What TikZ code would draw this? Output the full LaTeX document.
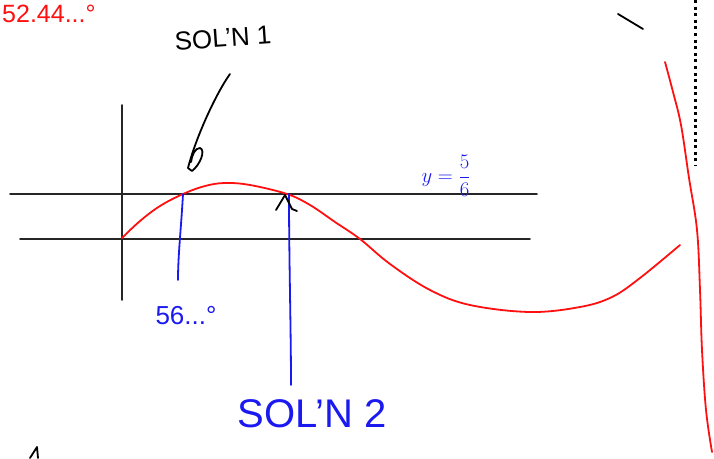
\documentclass[tikz,border=0pt]{standalone}
\usepackage{fontspec}
\setmainfont{Liberation Sans}
\usetikzlibrary{calc}
\definecolor{penred}{HTML}{FF1010}
\definecolor{penblue}{HTML}{1A1AF0}

\begin{document}
\begin{tikzpicture}[x=1pt,y=-1pt,line cap=round,line join=round,
  pen/.style={line width=1.8pt},
  axis/.style={black!85,line width=1.9pt}]
\clip (0,0) rectangle (714,458);
\def\yA{194} \def\yB{239} \def\xO{122}
% axes and the two levels
\draw[axis] (\xO,105) -- (\xO,300);
\draw[axis] (10,\yA) -- (537,\yA);
\draw[axis] (20,\yB) -- (530,\yB);
% the sine curve
\draw[penred,pen] plot[smooth,tension=0.6] coordinates {(\xO,238) (140,221) (160,206) (183,\yA) (205,186) (225,183) (250,185) (287,\yA) (310,205) (335,222) (360,\yB) (390,264) (430,290) (470,305) (530,312) (580,307) (612,297) (640,278) (680,245)};
\draw[penred,pen] plot[smooth,tension=0.6] coordinates {(665,62) (673,92) (681,125) (689,178) (697,230) (700,290) (702,350) (706,410) (712,452)};
% right margin marks
\draw[black,pen] (618,14) -- (643,29);
\draw[black,line width=3pt,dash pattern=on 3pt off 3.6pt,line cap=butt] (695,0) -- (695,166);
\draw[black,pen] (30,458) -- (37,447) -- (38,458);
% labels
\node[penred,font=\fontsize{25}{25}\selectfont,anchor=base west,inner sep=0pt] (deg52) at (2,22) {52.44...°};
\node[font=\fontsize{26}{26}\selectfont,rotate=4] (sol1) at (223,38) {SOL'N 1};
\node[penblue,font=\fontsize{22}{22}\selectfont] (yval) at (446,176) {$y=\displaystyle\frac{5}{6}$};
\node[penblue,font=\fontsize{26}{26}\selectfont] (deg56) at (186,316) {56...°};
\node[penblue,font=\fontsize{40}{40}\selectfont] (sol2) at (312,414) {SOL'N 2};
% pointers
\coordinate (p1) at (183,\yA);
\coordinate (p2) at (289,\yA);
\coordinate (e1) at (178,280);
\coordinate (e2) at (291,385);
\draw[penblue,pen] (p1) .. controls (181,230) and (178,255) .. (e1);
\draw[penblue,pen] (p2) .. controls (289,260) and (291,330) .. (e2);
\draw[black,pen] (230,74) .. controls (215,95) and (195,140) .. (188,168) -- (192,171) .. controls (200,165) and (206,150) .. (200,148) .. controls (195,148) and (192,155) .. (191,162);
\draw[black,pen] (276,210) -- (285,195) -- (292,209) -- (297,211);
\end{tikzpicture}
\end{document}
